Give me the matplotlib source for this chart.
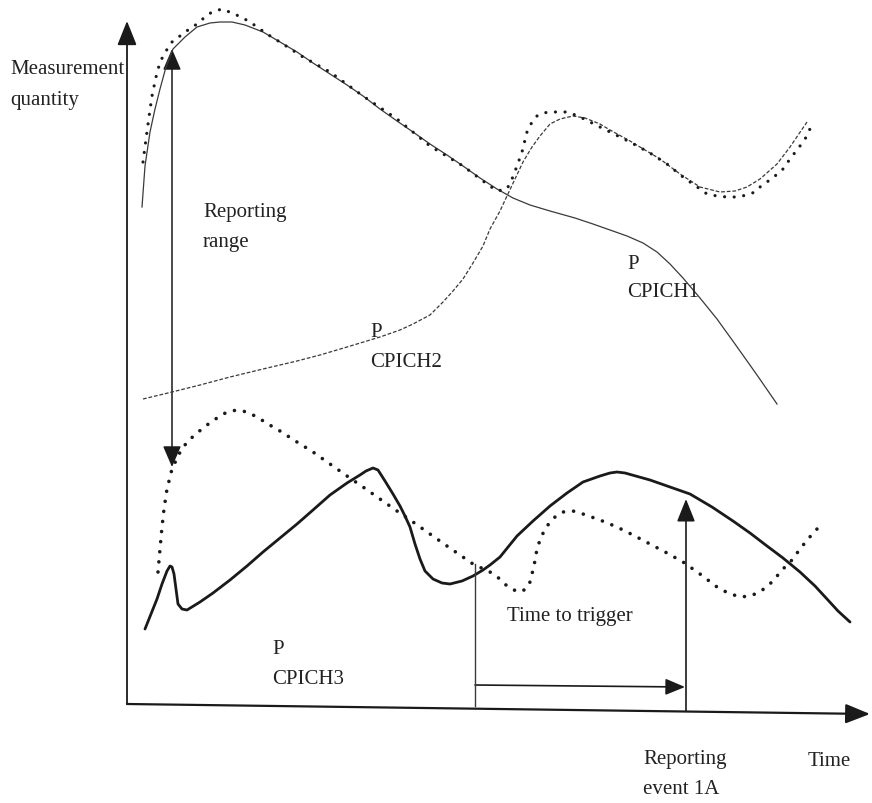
import numpy as np
import matplotlib
matplotlib.use("Agg")
import matplotlib.pyplot as plt
from matplotlib.patches import FancyArrowPatch

# ---- data: curve samples (pixel coords, y downward) ----
cpich1_pts = [(142,208),(145,167),(150,133),(155,110),(160,90),(166,68),(173,50),(185,38),
              (197,28),(210,24),(220,23),(232,23),(245,26),(263,33),(280,43),(297,53),
              (313,64),(330,75),(347,86),(363,97),(380,110),(397,122),(413,133),(430,145),
              (447,156),(463,167),(480,179),(497,190),(513,199),(530,206),(550,212),(575,219),
              (593,225),(610,231),(627,237),(643,244),(657,253),(670,265),(683,279),(700,299),
              (717,320),(735,345),(757,376),(777,405)]

envelope_pts = [(143,163),(146,140),(149,118),(152,97),(156,78),(160,63),(166,52),(172,43),
                (180,37),(188,31),(197,25),(205,18),(212,13),(222,10),(232,14),(241,18),
                (250,23),(267,35),(283,45),(303,58),(330,73),(363,97),(397,120),(430,147),
                (463,167),(483,182),(497,192),(507,190),(512,180),(517,167),(522,153),(527,133),
                (532,123),(537,117),(543,114),(550,113),(558,113),(567,113),(578,117),(590,123),
                (610,133),(630,143),(650,154),(667,165),(683,178),(700,190),(707,195),(717,197),
                (727,198),(737,198),(747,196),(755,193),(760,188),(767,183),(775,177),(783,170),
                (790,160),(800,147),(807,137),(812,125)]

cpich2_pts = [(143,400),(172,393),(200,386),(230,378),(263,370),(297,362),(320,356),(347,348),
              (380,338),(400,331),(413,325),(430,316),(443,303),(453,292),(463,280),(473,264),
              (483,247),(490,230),(500,212),(507,197),(515,180),(523,163),(532,148),(540,137),
              (550,125),(560,120),(573,117),(585,119),(600,125),(610,131),(630,142),(660,160),
              (680,175),(700,188),(720,193),(735,192),(747,188),(760,180),(777,165),(790,148),
              (807,123)]

dotted_low_pts = [(158,573),(160,550),(162,528),(164,510),(167,490),(172,470),(179,455),(187,443),
                  (197,434),(207,426),(217,419),(227,413),(237,411),(247,413),(257,418),(268,425),
                  (280,432),(297,443),(313,453),(330,465),(347,477),(363,488),(380,500),(397,512),
                  (413,523),(430,535),(447,547),(460,556),(473,565),(490,573),(500,580),(507,587),
                  (514,591),(520,593),(526,590),(530,583),(534,567),(537,550),(541,538),(547,527),
                  (555,518),(563,513),(573,512),(583,515),(600,521),(617,528),(633,536),(650,545),
                  (667,554),(683,563),(700,575),(717,588),(728,594),(740,598),(750,597),(760,593),
                  (772,583),(783,570),(792,561),(800,550),(808,540),(817,530)]

cpich3_pts = [(145,630),(151,615),(157,600),(162,585),(167,572),(170,567),(172,568),(174,575),
              (176,590),(178,605),(182,610),(187,611),(200,603),(213,594),(230,581),(247,567),
              (263,553),(280,539),(297,525),(313,511),(330,496),(347,484),(360,476),(366,472),
              (373,469),(378,471),(385,482),(393,495),(400,507),(405,517),(410,528),(415,545),
              (420,560),(425,572),(433,580),(442,584),(450,585),(462,582),(473,577),(483,571),
              (490,566),(500,558),(517,537),(533,522),(550,507),(567,494),(583,483),(600,477),
              (610,474),(617,473),(625,474),(650,481),(670,488),(690,495),(712,508),(733,522),
              (750,534),(767,547),(783,559),(800,573),(815,587),(827,600),(838,612),(850,623)]

labels = [
    (10, 70, "Measurement"), (10, 100, "quantity"),
    (203, 213, "Reporting"), (203, 243, "range"),
    (370, 333, "P"), (370, 363, "CPICH2"),
    (627, 265, "P"), (627, 293, "CPICH1"),
    (272, 650, "P"), (272, 680, "CPICH3"),
    (507, 617, "Time to trigger"),
    (643, 760, "Reporting"), (643, 790, "event 1A"),
    (808, 762, "Time"),
]

# ---- figure ----
fig = plt.figure(figsize=(8.72, 8.04), dpi=100)
ax = fig.add_axes([0, 0, 1, 1])
ax.set_xlim(0, 872)
ax.set_ylim(804, 0)
ax.axis("off")

def xy(pts):
    a = np.array(pts, dtype=float)
    return a[:, 0], a[:, 1]

ink = "#1a1a1a"
thin = "#3a3a3a"

x, y = xy(cpich1_pts)
ax.plot(x, y, color=thin, lw=0.9)
x, y = xy(cpich2_pts)
ax.plot(x, y, color=thin, lw=0.9, linestyle=(0, (3, 1.5)))
x, y = xy(envelope_pts)
ax.plot(x, y, color=ink, lw=2.3, linestyle=(0, (0.01, 3.0)), dash_capstyle="round")
x, y = xy(dotted_low_pts)
ax.plot(x, y, color=ink, lw=2.6, linestyle=(0, (0.01, 2.8)), dash_capstyle="round")
x, y = xy(cpich3_pts)
ax.plot(x, y, color=ink, lw=2.0, solid_capstyle="round", solid_joinstyle="round")

def arrow(p0, p1, style, lw=1.2, ms=20):
    a = FancyArrowPatch(p0, p1, arrowstyle=style, mutation_scale=ms,
                        color=ink, lw=lw, shrinkA=0, shrinkB=0)
    ax.add_patch(a)

# axes
arrow((127, 705), (127, 22), "-|>,head_length=0.75,head_width=0.3", lw=1.3)
arrow((127, 705), (870, 715), "-|>,head_length=0.75,head_width=0.3", lw=1.6)
# reporting range
arrow((172, 50), (172, 468), "<|-|>,head_length=0.65,head_width=0.28", lw=1.1)
# time to trigger
ax.plot([475, 475], [565, 707], color=thin, lw=1.0)
arrow((475, 686), (685, 688), "-|>,head_length=0.6,head_width=0.25", lw=1.2)
arrow((686, 712), (686, 500), "-|>,head_length=0.7,head_width=0.28", lw=1.2)

for tx, ty, s in labels:
    ax.text(tx, ty, s, fontsize=15, family="Liberation Serif", color="#222222",
            ha="left", va="center")

fig.savefig("out.png", dpi=100)
